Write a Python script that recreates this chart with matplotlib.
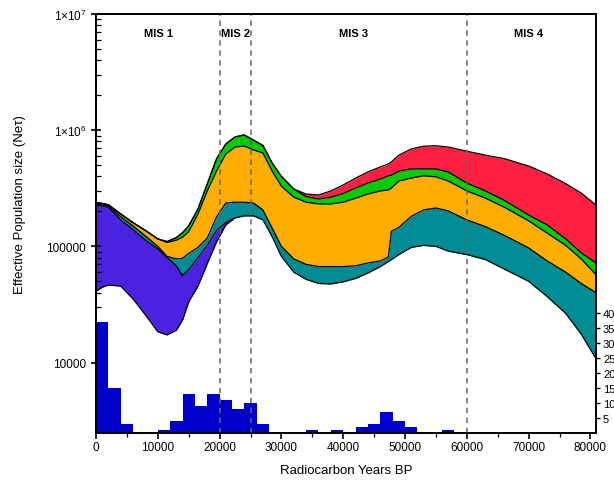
import matplotlib
matplotlib.use("Agg")
import matplotlib.pyplot as plt
import matplotlib.transforms as mtransforms
import numpy as np
from matplotlib.ticker import FixedLocator, MultipleLocator, NullFormatter

plt.rcParams['font.family'] = ['Liberation Sans', 'DejaVu Sans']
plt.rcParams['mathtext.fontset'] = 'custom'
plt.rcParams['mathtext.rm'] = 'Liberation Sans'

# ── Data (Ne in thousands) ──────────────────────────────────────────────────
years = [0, 1000, 2000, 4000, 6000, 8000, 10000, 11500, 13000, 14000, 15000,
         16500, 18000, 19500, 21000, 22500, 24000, 25500, 27000, 28500, 30000,
         32000, 34000, 36000, 38000, 40000, 42000, 44000, 46000, 47300, 47800,
         49000, 51000, 53000, 55000, 57000, 60000, 63000, 66000, 70000, 73000,
         76000, 78500, 80900]

ne_top = [238, 234, 228, 190, 160, 137, 116, 110, 119, 131, 150, 210, 344, 565,
          760, 875, 910, 820, 740, 522, 400, 312, 282, 277, 300, 338, 387, 437,
          483, 512, 534, 610, 689, 728, 735, 716, 659, 610, 570, 492, 420, 347,
          288, 227]
ne_green = [238, 234, 228, 190, 160, 137, 116, 110, 119, 131, 150, 210, 344, 565,
            760, 875, 910, 820, 740, 522, 400, 312, 268, 256, 265, 285, 318, 351,
            380, 405, 410, 445, 464, 464, 464, 437, 351, 300, 250, 186, 153, 116,
            88, 72]
ne_orange = [238, 234, 228, 190, 160, 137, 116, 108, 113, 120, 134, 190, 300, 445,
             624, 717, 730, 676, 637, 445, 330, 265, 240, 232, 232, 240, 260, 282,
             300, 306, 318, 365, 387, 405, 397, 365, 300, 260, 218, 166, 130, 102,
             78, 57]
ne_teal = [232, 227, 222, 181, 150, 123, 100, 82, 78, 79, 87, 98, 118, 179, 236,
           240, 240, 236, 206, 144, 100, 78, 70, 67, 67, 67, 68, 72, 75, 81, 135,
           146, 181, 206, 214, 202, 169, 148, 125, 97, 75, 60, 48, 40]
ne_purple = [227, 222, 218, 169, 139, 113, 95, 80, 68, 56, 63, 80, 102, 137, 160,
             176, 183, 183, 169, 121, 82, 60, 52, 48, 47.5, 49.5, 53, 59, 67, 74,
             77, 85, 98, 102, 100, 91, 85, 77, 64, 50, 37, 26.5, 17.6, 10.8]
# lower edge of the purple band (only up to 22 500 yr, where it joins the rest)
ne_bottom = [41, 44.5, 46.5, 45.5, 35.2, 25.7, 18.4, 17.3, 19, 23.2, 33.3, 45.5,
             71, 109, 153, 176]

# dated samples per 2000-yr bin
bin_start = [0, 2000, 4000, 10000, 12000, 14000, 16000, 18000, 20000, 22000,
             24000, 26000, 34000, 38000, 42000, 44000, 46000, 48000, 50000, 56000]
bin_count = [37, 15, 3, 1, 4, 13, 9, 13, 11, 8, 10, 3, 1, 1, 2, 3, 7, 4, 2, 1]

mis_bounds = [20000, 25000, 60000]
mis_labels = ["MIS 1", "MIS 2", "MIS 3", "MIS 4"]
mis_pos = [10100, 22600, 41600, 70000]

# ── Figure ───────────────────────────────────────────────────────────────────
fig = plt.figure(figsize=(6.14, 4.81), dpi=100)
ax = fig.add_axes([96 / 614, 1 - 434 / 481, 500 / 614, 419 / 481])

x = np.array(years)
top = np.array(ne_top) * 1000
green = np.array(ne_green) * 1000
orange = np.array(ne_orange) * 1000
teal = np.array(ne_teal) * 1000
purple = np.array(ne_purple) * 1000
bottom = np.array(ne_bottom) * 1000
nb = len(bottom)

ax.fill_between(x[:nb], bottom, purple[:nb], color="#4A22E0", lw=0)
ax.fill_between(x, purple, teal, color="#008C94", lw=0)
ax.fill_between(x, teal, orange, color="#FFAE00", lw=0)
ax.fill_between(x, orange, green, color="#00CC00", lw=0)
ax.fill_between(x, green, top, color="#FF1F40", lw=0)
for curve in (purple, teal, orange, green, top):
    ax.plot(x, curve, color="black", lw=0.9)
ax.plot(x[:nb], bottom, color="black", lw=0.9)

ax.set_yscale("log")
ax.set_ylim(2477, 1e7)
ax.set_xlim(0, 80900)

ax.yaxis.set_major_locator(FixedLocator([1e4, 1e5, 1e6, 1e7]))
ax.set_yticklabels(["10000", "100000", "1×10$^{6}$", "1×10$^{7}$"], fontsize=8.5)
ax.yaxis.set_minor_formatter(NullFormatter())
ax.tick_params(axis="y", which="major", direction="inout", length=7, width=1.2)
ax.tick_params(axis="y", which="minor", direction="in", length=3.5, width=0.9)
ax.yaxis.set_ticks_position("left")

ax.xaxis.set_major_locator(MultipleLocator(10000))
ax.xaxis.set_minor_locator(MultipleLocator(5000))
ax.tick_params(axis="x", which="major", direction="out", length=4, width=1.2,
               labelsize=8.5, pad=2)
ax.tick_params(axis="x", which="minor", direction="out", length=3, width=0.9)
ax.xaxis.set_ticks_position("bottom")

for s in ax.spines.values():
    s.set_linewidth(1.3)

ax.set_xlabel("Radiocarbon Years BP", fontsize=9.5, labelpad=8)
fig.text(20 / 614, 1 - 205 / 481, "Effective Population size (Neτ)",
         rotation=90, ha="center", va="center", fontsize=9.5)

trans = mtransforms.blended_transform_factory(ax.transData, ax.transAxes)
for lab, xp in zip(mis_labels, mis_pos):
    ax.text(xp, 0.954, lab, transform=trans, ha="center", va="center",
            fontsize=8, fontweight="bold")

# histogram of dated samples on the right-hand axis
ax2 = ax.twinx()
ax2.bar(bin_start, bin_count, width=2000, align="edge", color="#0000CC", lw=0)
for b in mis_bounds:
    ax2.axvline(b, color="#666666", lw=1.1, ls=(0, (3.5, 3)))
ax2.set_ylim(0, 139.7)
ax2.set_yticks(range(5, 45, 5))
ax2.tick_params(axis="y", direction="out", length=3, width=1, labelsize=8, pad=2)
ax2.set_xlim(0, 80900)
for s in ax2.spines.values():
    s.set_linewidth(1.3)

fig.savefig("out.png", dpi=100)
